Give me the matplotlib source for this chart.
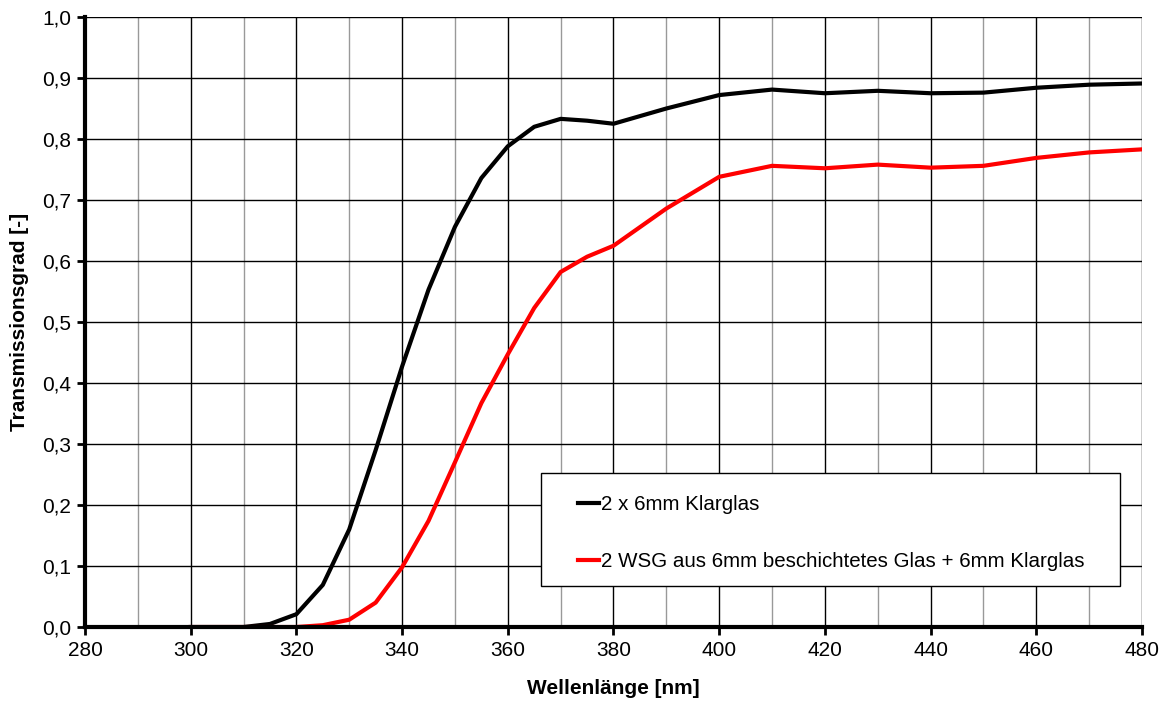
import numpy as np
import matplotlib
matplotlib.use("Agg")
from matplotlib import pyplot as plt
from matplotlib.ticker import MultipleLocator, FuncFormatter
from matplotlib.patches import Rectangle

plt.rcParams['font.family'] = ['Liberation Sans', 'DejaVu Sans']

# Wellenlänge in nm
wellenlaenge = [300, 305, 310, 315, 320, 325, 330, 335, 340, 345, 350, 355, 360, 365,
                370, 375, 380, 390, 400, 410, 420, 430, 440, 450, 460, 470, 480]

# 2 x 6mm Klarglas
klarglas = [0.0, 0.0, 0.0, 0.005, 0.021, 0.069, 0.160, 0.290, 0.427, 0.553, 0.656, 0.736,
            0.788, 0.820, 0.833, 0.830, 0.825, 0.850, 0.872, 0.881, 0.875, 0.879, 0.875,
            0.876, 0.884, 0.889, 0.891]

# 2 WSG aus 6mm beschichtetes Glas + 6mm Klarglas
beschichtet = [0.0, 0.0, 0.0, 0.0, 0.0, 0.003, 0.012, 0.040, 0.098, 0.174, 0.270, 0.367,
               0.447, 0.523, 0.582, 0.607, 0.625, 0.686, 0.738, 0.756, 0.752, 0.758, 0.753,
               0.756, 0.769, 0.778, 0.783]

fig = plt.figure(figsize=(11.67, 7.02), dpi=100)
ax = fig.add_axes([0.0728, 0.1068, 0.9058, 0.869])

ax.plot(wellenlaenge, klarglas, color='black', lw=3, label='2 x 6mm Klarglas', zorder=3)
ax.plot(wellenlaenge, beschichtet, color='#ff0000', lw=3,
        label='2 WSG aus 6mm beschichtetes Glas + 6mm Klarglas', zorder=3)

ax.set_xlim(280, 480)
ax.set_ylim(0, 1.0)
ax.xaxis.set_major_locator(MultipleLocator(20))
ax.xaxis.set_minor_locator(MultipleLocator(10))
ax.yaxis.set_major_locator(MultipleLocator(0.1))
ax.yaxis.set_major_formatter(FuncFormatter(lambda v, p: f"{v:.1f}".replace('.', ',')))

# Gitter: schwarz bei Hauptteilung, grau dazwischen
ax.grid(which='major', color='black', lw=1)
ax.grid(which='minor', axis='x', color='#999999', lw=1)
ax.set_axisbelow(True)

for s in ['top', 'right']:
    ax.spines[s].set_visible(False)
for s in ['left', 'bottom']:
    ax.spines[s].set_linewidth(3)
    ax.spines[s].set_zorder(4)

ax.tick_params(which='major', direction='out', length=6, width=2, labelsize=15, pad=4)
ax.tick_params(which='minor', length=0)

ax.set_xlabel('Wellenlänge [nm]', fontsize=15, fontweight='bold', labelpad=14)
ax.set_ylabel('Transmissionsgrad [-]', fontsize=15, fontweight='bold', labelpad=9)

# Rahmen der Legende separat, damit links mehr Platz bleibt
ax.add_patch(Rectangle((0.4314, 0.0672), 0.5478, 0.1853, transform=ax.transAxes,
                       facecolor='white', edgecolor='black', lw=1, zorder=5))
leg = ax.legend(loc='upper left', bbox_to_anchor=(0.4664, 0.216), borderaxespad=0,
                fontsize=14.8, frameon=False, handlelength=1.0, handletextpad=0.1,
                labelspacing=1.85, borderpad=0)
leg.set_zorder(6)

plt.savefig('out.png', dpi=100)
